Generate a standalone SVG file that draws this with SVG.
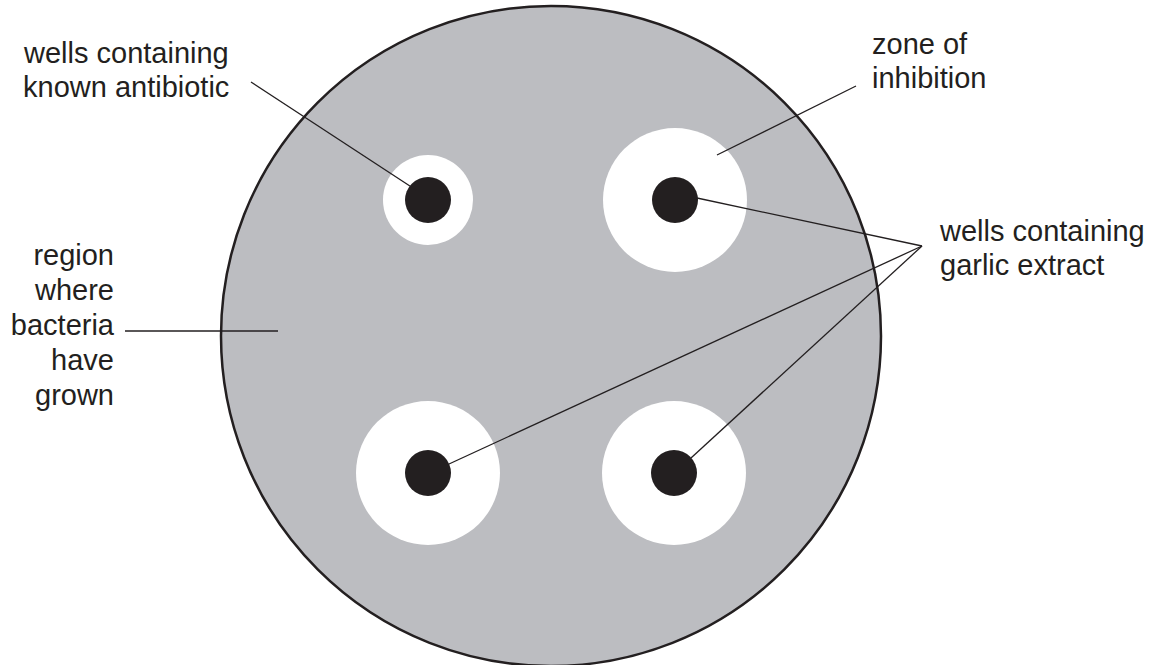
<svg xmlns="http://www.w3.org/2000/svg" width="1153" height="665" viewBox="0 0 1153 665">
<style>
text{font-family:"Liberation Sans",Arial,sans-serif;font-size:29px;fill:#231f20}
.zone{fill:#ffffff}
.well{fill:#231f20}
.conn line{stroke:#231f20;stroke-width:1.3;fill:none}
</style>
<rect width="1153" height="665" fill="#ffffff"/>
<g id="plate">
<circle cx="551" cy="336" r="330" fill="#bcbdc1" stroke="#231f20" stroke-width="2.5"/>
</g>
<g id="well-antibiotic">
<circle class="zone" cx="428" cy="200" r="45"/>
<circle class="well" cx="428" cy="200" r="23"/>
</g>
<g id="well-garlic-1">
<circle class="zone" cx="675" cy="200" r="72"/>
<circle class="well" cx="675" cy="200" r="23"/>
</g>
<g id="well-garlic-2">
<circle class="zone" cx="428" cy="473" r="72"/>
<circle class="well" cx="428" cy="473" r="23"/>
</g>
<g id="well-garlic-3">
<circle class="zone" cx="674" cy="473" r="72"/>
<circle class="well" cx="674" cy="473" r="23"/>
</g>
<g id="connectors" class="conn">
<line x1="251" y1="82" x2="416" y2="190"/>
<line x1="856" y1="86" x2="717" y2="155"/>
<line x1="125" y1="331" x2="278" y2="331"/>
<line x1="922" y1="246" x2="697" y2="198"/>
<line x1="922" y1="246" x2="449" y2="464"/>
<line x1="922" y1="246" x2="691" y2="458"/>
</g>
<g id="label-antibiotic">
<text x="24" y="63">wells containing</text>
<text x="23" y="97">known antibiotic</text>
</g>
<g id="label-zone">
<text x="872" y="54">zone of</text>
<text x="872" y="88">inhibition</text>
</g>
<g id="label-garlic">
<text x="940" y="241">wells containing</text>
<text x="940" y="275">garlic extract</text>
</g>
<g id="label-region" text-anchor="end">
<text x="114" y="265">region</text>
<text x="114" y="300">where</text>
<text x="114" y="335">bacteria</text>
<text x="114" y="370">have</text>
<text x="114" y="405">grown</text>
</g>
</svg>
